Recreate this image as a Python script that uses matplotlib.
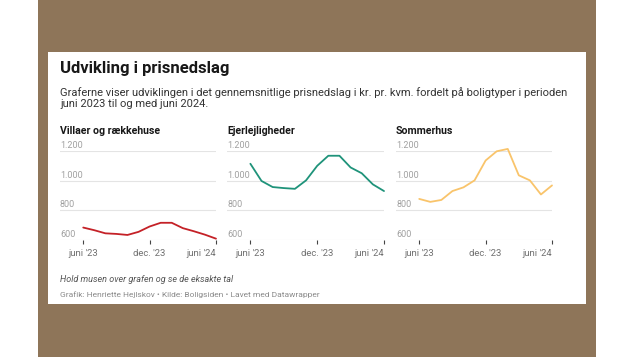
import matplotlib.pyplot as plt
from matplotlib.patches import Rectangle
import matplotlib.transforms as mtrans

plt.rcParams['font.family'] = ['Roboto', 'DejaVu Sans']

# maaneder fra juni '23 til juni '24
months = list(range(13))
tick_pos = [0, 6, 12]
tick_labels = ["juni '23", "dec. '23", "juni '24"]
y_ticks = [600, 800, 1000, 1200]
y_labels = ["600", "800", "1.000", "1.200"]

villaer = [684, 666, 645, 641, 634, 655, 691, 716, 716, 680, 659, 636, 609]
ejerlejl = [1114, 998, 957, 950, 945, 1002, 1100, 1168, 1168, 1089, 1050, 975, 930]
sommerhus = [877, 857, 870, 930, 955, 1002, 1136, 1198, 1214, 1036, 1002, 907, 968]

panels = [
    ("Villaer og rækkehuse", villaer, "#c42127", 60, 216),
    ("Ejerlejligheder", ejerlejl, "#1f937a", 227, 384),
    ("Sommerhus", sommerhus, "#f9c46b", 396, 552),
]

W, H = 635, 357
fig = plt.figure(figsize=(W / 100, H / 100), dpi=100)
fig.patch.set_facecolor("white")


def fx(x):
    return x / W


def fy(y):
    return 1 - y / H


# brun baggrund og hvidt kort
fig.patches.append(Rectangle((fx(38), 0), fx(596) - fx(38), 1, transform=fig.transFigure,
                             facecolor="#8e7559", edgecolor="none", zorder=-2))
fig.patches.append(Rectangle((fx(48), fy(304)), fx(586) - fx(48), fy(52) - fy(304),
                             transform=fig.transFigure, facecolor="white", edgecolor="none", zorder=-1))

fig.text(fx(60), fy(72.5), "Udvikling i prisnedslag", fontsize=12, fontweight="bold",
         color="#181818", va="baseline", ha="left")
fig.text(fx(60), fy(95.5), "Graferne viser udviklingen i det gennemsnitlige prisnedslag i kr. pr. kvm. "
         "fordelt på boligtyper i perioden", fontsize=8.0, color="#333333", va="baseline", ha="left")
fig.text(fx(60), fy(106.5), "juni 2023 til og med juni 2024.", fontsize=8.0, color="#333333",
         va="baseline", ha="left")

for title, vals, col, x0, x1 in panels:
    ax = fig.add_axes([fx(x0), fy(240), fx(x1) - fx(x0), fy(151) - fy(240)])
    ax.set_facecolor("none")
    ax.set_xlim(-2.1, 12)
    ax.set_ylim(600, 1200)
    for s in ax.spines.values():
        s.set_visible(False)
    for v in y_ticks:
        ax.axhline(v, color="#e4e4e4", lw=0.8, zorder=1)
    trans = mtrans.blended_transform_factory(ax.transAxes, ax.transData)
    off = mtrans.offset_copy(trans, fig=fig, x=0, y=3, units="dots")
    for v, lab in zip(y_ticks, y_labels):
        ax.text(0, v, lab, transform=off, fontsize=6.5, color="#a0a0a0",
                ha="left", va="baseline")
    ax.plot(months, vals, color=col, lw=1.3, clip_on=False, zorder=3,
            solid_joinstyle="round", solid_capstyle="round")
    ax.set_yticks([])
    ax.set_xticks(tick_pos)
    ax.set_xticklabels([])
    ax.tick_params(axis="x", direction="out", length=3, width=0.8, color="#444444", pad=2)
    for i, (p, lab) in enumerate(zip(tick_pos, tick_labels)):
        ha = "right" if i == 2 else "center"
        ax.text(p, 600, lab, fontsize=6.8, color="#707070", ha=ha, va="center",
                transform=mtrans.offset_copy(ax.transData, fig=fig, x=0, y=-14, units="dots"))
    fig.text(fx(x0), fy(133.5), title, fontsize=7.6, fontweight="bold", color="#181818",
             va="baseline", ha="left")

fig.text(fx(60), fy(282), "Hold musen over grafen og se de eksakte tal", fontsize=6.5,
         fontstyle="italic", color="#555555", va="baseline", ha="left")
fig.text(fx(60), fy(296.5), "Grafik: Henriette Hejlskov • Kilde: Boligsiden • Lavet med Datawrapper",
         fontsize=6.0, color="#8a8a8a", va="baseline", ha="left")

fig.savefig("out.png", dpi=100, facecolor=fig.get_facecolor())
